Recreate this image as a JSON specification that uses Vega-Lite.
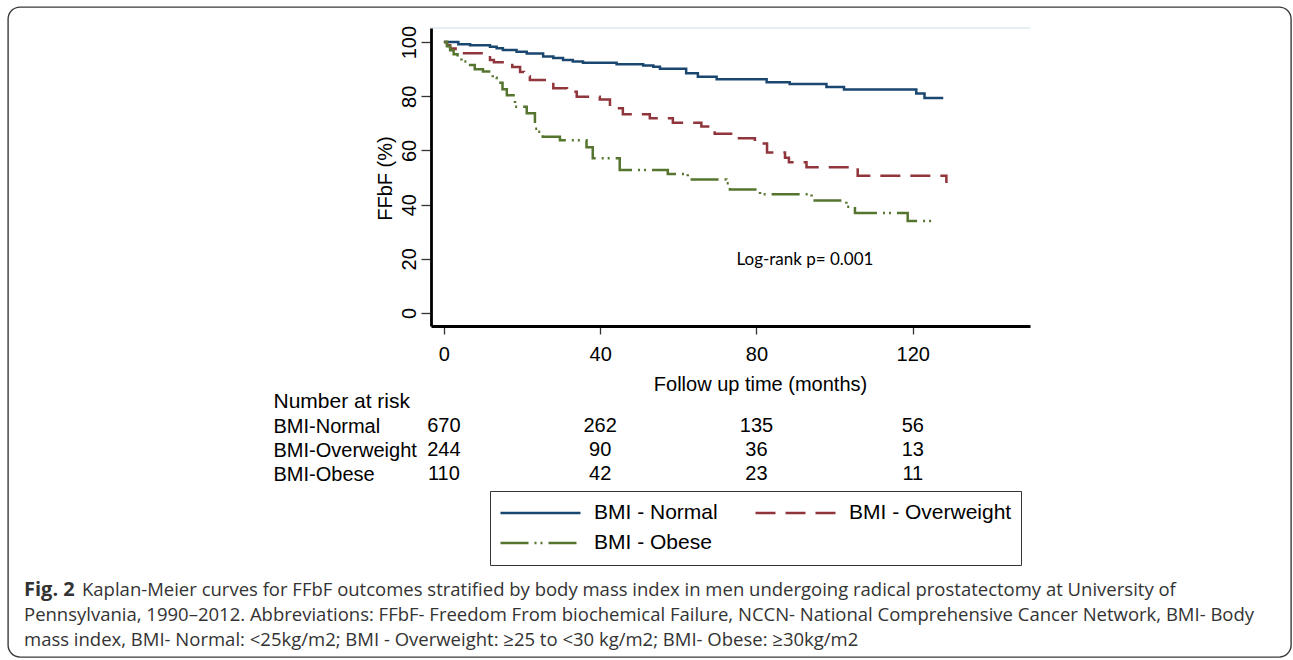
{
  "$schema": "https://vega.github.io/schema/vega-lite/v6.json",
  "width": 1283,
  "height": 650,
  "autosize": {"type": "none"},
  "padding": {"left": 8, "top": 7, "right": 2, "bottom": 3},
  "background": "white",
  "view": {"stroke": "#3a3a3a", "strokeWidth": 1.4, "cornerRadius": 12, "fill": "white"},
  "config": {"font": "Liberation Sans", "axis": {"grid": false}},
  "layer": [
    {
      "data": {"values": [
        {"group": "BMI - Normal", "month": 0, "ffbf": 100},
        {"group": "BMI - Normal", "month": 3.7, "ffbf": 99.2},
        {"group": "BMI - Normal", "month": 6.7, "ffbf": 98.8},
        {"group": "BMI - Normal", "month": 11.8, "ffbf": 98.3},
        {"group": "BMI - Normal", "month": 13.5, "ffbf": 97.7},
        {"group": "BMI - Normal", "month": 15.1, "ffbf": 97.1},
        {"group": "BMI - Normal", "month": 18.6, "ffbf": 96.4},
        {"group": "BMI - Normal", "month": 21.2, "ffbf": 95.8},
        {"group": "BMI - Normal", "month": 25.4, "ffbf": 94.7},
        {"group": "BMI - Normal", "month": 28, "ffbf": 94.1},
        {"group": "BMI - Normal", "month": 30.5, "ffbf": 93.4},
        {"group": "BMI - Normal", "month": 33, "ffbf": 92.8},
        {"group": "BMI - Normal", "month": 35.6, "ffbf": 92.4},
        {"group": "BMI - Normal", "month": 44.2, "ffbf": 91.8},
        {"group": "BMI - Normal", "month": 51, "ffbf": 91.4},
        {"group": "BMI - Normal", "month": 53.6, "ffbf": 90.9},
        {"group": "BMI - Normal", "month": 55.3, "ffbf": 90.2},
        {"group": "BMI - Normal", "month": 62, "ffbf": 88.5},
        {"group": "BMI - Normal", "month": 65, "ffbf": 87.2},
        {"group": "BMI - Normal", "month": 69.8, "ffbf": 86.3},
        {"group": "BMI - Normal", "month": 82.6, "ffbf": 85.2},
        {"group": "BMI - Normal", "month": 88.5, "ffbf": 84.5},
        {"group": "BMI - Normal", "month": 97.9, "ffbf": 83.4},
        {"group": "BMI - Normal", "month": 102.4, "ffbf": 82.5},
        {"group": "BMI - Normal", "month": 120.9, "ffbf": 81.0},
        {"group": "BMI - Normal", "month": 123, "ffbf": 79.4},
        {"group": "BMI - Normal", "month": 127.8, "ffbf": 79.4},
        {"group": "BMI - Overweight", "month": 0, "ffbf": 100},
        {"group": "BMI - Overweight", "month": 0.8, "ffbf": 98.8},
        {"group": "BMI - Overweight", "month": 1.6, "ffbf": 97.6},
        {"group": "BMI - Overweight", "month": 3, "ffbf": 96.6},
        {"group": "BMI - Overweight", "month": 4.5, "ffbf": 95.9},
        {"group": "BMI - Overweight", "month": 11.8, "ffbf": 93.4},
        {"group": "BMI - Overweight", "month": 12.8, "ffbf": 92.6},
        {"group": "BMI - Overweight", "month": 17.5, "ffbf": 90.8},
        {"group": "BMI - Overweight", "month": 19.5, "ffbf": 89.0},
        {"group": "BMI - Overweight", "month": 20.5, "ffbf": 87.4},
        {"group": "BMI - Overweight", "month": 22, "ffbf": 86.0},
        {"group": "BMI - Overweight", "month": 27, "ffbf": 85.2},
        {"group": "BMI - Overweight", "month": 28, "ffbf": 83.0},
        {"group": "BMI - Overweight", "month": 31.5, "ffbf": 81.7},
        {"group": "BMI - Overweight", "month": 34, "ffbf": 79.8},
        {"group": "BMI - Overweight", "month": 39.9, "ffbf": 78.8},
        {"group": "BMI - Overweight", "month": 42.5, "ffbf": 75.6},
        {"group": "BMI - Overweight", "month": 45.8, "ffbf": 73.4},
        {"group": "BMI - Overweight", "month": 52.7, "ffbf": 71.9},
        {"group": "BMI - Overweight", "month": 58.6, "ffbf": 70.2},
        {"group": "BMI - Overweight", "month": 65.9, "ffbf": 68.8},
        {"group": "BMI - Overweight", "month": 69.3, "ffbf": 66.2},
        {"group": "BMI - Overweight", "month": 74.9, "ffbf": 64.5},
        {"group": "BMI - Overweight", "month": 79.6, "ffbf": 62.6},
        {"group": "BMI - Overweight", "month": 82.7, "ffbf": 59.2},
        {"group": "BMI - Overweight", "month": 87.3, "ffbf": 57.3},
        {"group": "BMI - Overweight", "month": 88.3, "ffbf": 55.6},
        {"group": "BMI - Overweight", "month": 92.8, "ffbf": 53.8},
        {"group": "BMI - Overweight", "month": 105.9, "ffbf": 50.7},
        {"group": "BMI - Overweight", "month": 128.6, "ffbf": 48.0},
        {"group": "BMI - Obese", "month": 0, "ffbf": 100},
        {"group": "BMI - Obese", "month": 0.8, "ffbf": 98.5},
        {"group": "BMI - Obese", "month": 1.6, "ffbf": 97},
        {"group": "BMI - Obese", "month": 2.5, "ffbf": 95.5},
        {"group": "BMI - Obese", "month": 3.5, "ffbf": 94},
        {"group": "BMI - Obese", "month": 4.5, "ffbf": 92.8},
        {"group": "BMI - Obese", "month": 5.9, "ffbf": 91.5},
        {"group": "BMI - Obese", "month": 7.9, "ffbf": 90.0},
        {"group": "BMI - Obese", "month": 10, "ffbf": 89.1},
        {"group": "BMI - Obese", "month": 12.5, "ffbf": 86.8},
        {"group": "BMI - Obese", "month": 13.5, "ffbf": 85.0},
        {"group": "BMI - Obese", "month": 15, "ffbf": 82.6},
        {"group": "BMI - Obese", "month": 16.1, "ffbf": 80.4},
        {"group": "BMI - Obese", "month": 18.2, "ffbf": 76.1},
        {"group": "BMI - Obese", "month": 21.2, "ffbf": 73.7},
        {"group": "BMI - Obese", "month": 23.3, "ffbf": 68.0},
        {"group": "BMI - Obese", "month": 24, "ffbf": 66.9},
        {"group": "BMI - Obese", "month": 25.3, "ffbf": 65.1},
        {"group": "BMI - Obese", "month": 29.7, "ffbf": 63.8},
        {"group": "BMI - Obese", "month": 36.5, "ffbf": 61.2},
        {"group": "BMI - Obese", "month": 38.1, "ffbf": 57.1},
        {"group": "BMI - Obese", "month": 45, "ffbf": 52.8},
        {"group": "BMI - Obese", "month": 57.3, "ffbf": 51.3},
        {"group": "BMI - Obese", "month": 62.4, "ffbf": 49.3},
        {"group": "BMI - Obese", "month": 72.3, "ffbf": 47.9},
        {"group": "BMI - Obese", "month": 73.2, "ffbf": 45.6},
        {"group": "BMI - Obese", "month": 80.9, "ffbf": 43.8},
        {"group": "BMI - Obese", "month": 94.1, "ffbf": 41.5},
        {"group": "BMI - Obese", "month": 103, "ffbf": 39.2},
        {"group": "BMI - Obese", "month": 105.2, "ffbf": 36.9},
        {"group": "BMI - Obese", "month": 118.7, "ffbf": 34.0},
        {"group": "BMI - Obese", "month": 126.2, "ffbf": 34.0}
      ]},
      "mark": {"type": "line", "interpolate": "step-after", "strokeWidth": 2.5},
      "encoding": {
        "x": {
          "field": "month", "type": "quantitative",
          "scale": {"domain": [-3.3, 150], "range": [423, 1022], "nice": false, "zero": false},
          "axis": {
            "orient": "bottom", "offset": -331, "values": [0, 40, 80, 120],
            "title": "Follow up time (months)", "titleX": 752, "titleY": 58,
            "titleAlign": "center", "titleBaseline": "middle", "titleFontSize": 20,
            "titleFontWeight": "normal", "titleColor": "black", "titleFont": "Liberation Sans",
            "labelFontSize": 20, "labelColor": "black", "labelPadding": 10, "labelFlush": false,
            "labelFont": "Liberation Sans",
            "tickSize": 8, "tickColor": "#333333", "tickWidth": 1.3,
            "domainColor": "black", "domainWidth": 2.8, "grid": false, "zindex": 2
          }
        },
        "y": {
          "field": "ffbf", "type": "quantitative",
          "scale": {"domain": [-4.8, 105.2], "range": [319, 21], "nice": false, "zero": false},
          "axis": {
            "orient": "left", "offset": -423, "values": [0, 20, 40, 60, 80, 100],
            "title": "FFbF (%)", "titleX": -46, "titleY": 171, "titleAngle": 270,
            "titleAlign": "center", "titleBaseline": "middle", "titleFontSize": 20,
            "titleFontWeight": "normal", "titleColor": "black", "titleFont": "Liberation Sans",
            "labelAngle": 270, "labelAlign": "center", "labelBaseline": "bottom",
            "labelFontSize": 20, "labelColor": "black", "labelPadding": 2, "labelFlush": false,
            "labelFont": "Liberation Sans",
            "tickSize": 10, "tickColor": "#333333", "tickWidth": 1.3,
            "domainColor": "black", "domainWidth": 2.8, "grid": false, "zindex": 2
          }
        },
        "color": {
          "field": "group", "type": "nominal",
          "scale": {"domain": ["BMI - Normal", "BMI - Overweight", "BMI - Obese"], "range": ["#1a476f", "#90353b", "#55752f"]},
          "legend": {
            "title": null, "orient": "none", "legendX": 482, "legendY": 484,
            "columns": 2, "direction": "horizontal",
            "symbolType": "stroke", "symbolSize": 6400, "symbolStrokeWidth": 2.5,
            "clipHeight": 26,
            "labelFont": "Liberation Sans", "labelFontSize": 21, "labelColor": "black",
            "labelOffset": 12, "labelLimit": 400, "columnPadding": 36, "rowPadding": 4,
            "padding": 9, "strokeColor": "#333333", "fillColor": "white"
          }
        },
        "strokeDash": {
          "field": "group", "type": "nominal",
          "scale": {"domain": ["BMI - Normal", "BMI - Overweight", "BMI - Obese"], "range": [[1, 0], [20, 10], [28, 6, 2, 4, 2, 6]]},
          "legend": {
            "title": null, "orient": "none", "legendX": 482, "legendY": 484,
            "columns": 2, "direction": "horizontal",
            "symbolType": "stroke", "symbolSize": 6400, "symbolStrokeWidth": 2.5,
            "clipHeight": 26,
            "labelFont": "Liberation Sans", "labelFontSize": 21, "labelColor": "black",
            "labelOffset": 12, "labelLimit": 400, "columnPadding": 36, "rowPadding": 4,
            "padding": 9, "strokeColor": "#333333", "fillColor": "white"
          }
        }
      }
    },
    {
      "data": {"values": [{"label": "Log-rank p= 0.001"}]},
      "mark": {"type": "text", "font": "Lato", "fontSize": 17, "color": "black", "align": "center", "baseline": "middle"},
      "encoding": {
        "x": {"datum": 92.4, "type": "quantitative", "axis": null,
              "scale": {"domain": [-3.3, 150], "range": [423, 1022], "nice": false, "zero": false}},
        "y": {"datum": 19.6, "type": "quantitative", "axis": null,
              "scale": {"domain": [-4.8, 105.2], "range": [319, 21], "nice": false, "zero": false}},
        "text": {"field": "label", "type": "nominal"}
      }
    },
    {
      "data": {"values": [{"edge": "top"}]},
      "mark": {"type": "rule", "color": "#dfe9ee", "strokeWidth": 1.5},
      "encoding": {
        "x": {"datum": -3.3, "type": "quantitative", "axis": null,
              "scale": {"domain": [-3.3, 150], "range": [423, 1022], "nice": false, "zero": false}},
        "x2": {"datum": 150},
        "y": {"datum": 105.2, "type": "quantitative", "axis": null,
              "scale": {"domain": [-4.8, 105.2], "range": [319, 21], "nice": false, "zero": false}}
      }
    },
    {
      "data": {"values": [
        {"row": "BMI-Normal", "month": 0, "n": 670},
        {"row": "BMI-Normal", "month": 40, "n": 262},
        {"row": "BMI-Normal", "month": 80, "n": 135},
        {"row": "BMI-Normal", "month": 120, "n": 56},
        {"row": "BMI-Overweight", "month": 0, "n": 244},
        {"row": "BMI-Overweight", "month": 40, "n": 90},
        {"row": "BMI-Overweight", "month": 80, "n": 36},
        {"row": "BMI-Overweight", "month": 120, "n": 13},
        {"row": "BMI-Obese", "month": 0, "n": 110},
        {"row": "BMI-Obese", "month": 40, "n": 42},
        {"row": "BMI-Obese", "month": 80, "n": 23},
        {"row": "BMI-Obese", "month": 120, "n": 11}
      ]},
      "mark": {"type": "text", "font": "Liberation Sans", "fontSize": 20, "color": "black", "align": "center", "baseline": "middle"},
      "encoding": {
        "x": {"field": "month", "type": "quantitative", "axis": null,
              "scale": {"domain": [-3.3, 150], "range": [423, 1022], "nice": false, "zero": false}},
        "y": {
          "field": "row", "type": "nominal",
          "scale": {"type": "point", "domain": ["BMI-Normal", "BMI-Overweight", "BMI-Obese"], "range": [419, 467], "padding": 0},
          "axis": {
            "orient": "right", "offset": -1018, "domain": false, "ticks": false,
            "labelAlign": "left", "labelBaseline": "middle", "labelPadding": 0,
            "labelFontSize": 20, "labelColor": "black", "labelFont": "Liberation Sans",
            "title": "Number at risk", "titleAngle": 0, "titleX": 0, "titleY": 394,
            "titleAlign": "left", "titleBaseline": "middle", "titleFontSize": 21,
            "titleFontWeight": "normal", "titleColor": "black", "titleFont": "Liberation Sans",
            "grid": false
          }
        },
        "text": {"field": "n", "type": "quantitative"}
      }
    },
    {
      "data": {"values": [
        {"line": "1", "indent": "after label", "text": "Kaplan-Meier curves for FFbF outcomes stratified by body mass index in men undergoing radical prostatectomy at University of"},
        {"line": "2", "indent": "none", "text": "Pennsylvania, 1990–2012. Abbreviations: FFbF- Freedom From biochemical Failure, NCCN- National Comprehensive Cancer Network, BMI- Body"},
        {"line": "3", "indent": "none", "text": "mass index, BMI- Normal: <25kg/m2; BMI - Overweight: ≥25 to <30 kg/m2; BMI- Obese: ≥30kg/m2"}
      ]},
      "mark": {"type": "text", "font": "Open Sans", "fontSize": 18.5, "color": "#333333", "align": "left", "baseline": "middle"},
      "encoding": {
        "x": {"field": "indent", "type": "nominal", "axis": null,
              "scale": {"type": "point", "domain": ["none", "after label"], "range": [16, 74], "padding": 0}},
        "y": {"field": "line", "type": "ordinal", "axis": null,
              "scale": {"type": "point", "domain": ["1", "2", "3"], "range": [583, 633], "padding": 0}},
        "text": {"field": "text", "type": "nominal"}
      }
    },
    {
      "data": {"values": [
        {"line": "1", "indent": "none", "text": "Fig. 2"}
      ]},
      "mark": {"type": "text", "font": "Open Sans", "fontSize": 20, "fontWeight": "bold", "color": "#333333", "align": "left", "baseline": "middle"},
      "encoding": {
        "x": {"field": "indent", "type": "nominal", "axis": null,
              "scale": {"type": "point", "domain": ["none", "after label"], "range": [16, 74], "padding": 0}},
        "y": {"field": "line", "type": "ordinal", "axis": null,
              "scale": {"type": "point", "domain": ["1", "2", "3"], "range": [583, 633], "padding": 0}},
        "text": {"field": "text", "type": "nominal"}
      }
    }
  ],
  "resolve": {"scale": {"x": "independent", "y": "independent"}}
}
